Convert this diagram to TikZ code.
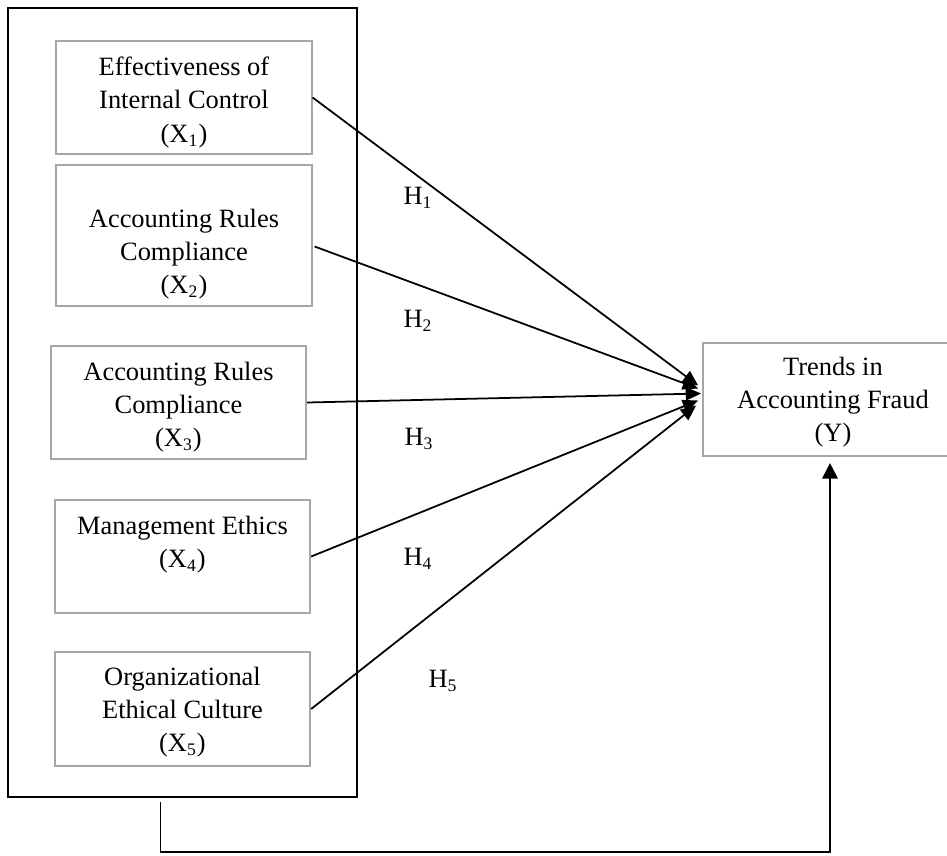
\documentclass[tikz,border=0pt]{standalone}
\usepackage{fontspec}
\setmainfont{Liberation Serif}
\usetikzlibrary{arrows.meta,calc}
\definecolor{boxgray}{RGB}{166,166,166}
\tikzset{every node/.style={font=\fontsize{12}{15}\selectfont, align=center},
  var/.style={draw=boxgray, line width=0.8pt, minimum width=116pt, minimum height=51.5pt, inner sep=2pt},
  vtxt/.style={inner sep=0pt},
  hyp/.style={-{Triangle[length=7pt,width=6pt]}, line width=0.8pt},
  hlab/.style={inner sep=0pt}}

\begin{document}
\begin{tikzpicture}[x=0.454pt,y=-0.454pt]
  \path[use as bounding box] (0,0) rectangle (947,856);
  \clip (0,0) rectangle (947,856);
  % independent variables
  \node[draw, line width=1.1pt, minimum width=158.4pt, minimum height=358.2pt] (grp) at (182.5,402.5) {};
  \node[var] (x1) at (184,97.5) {};
  \node[var, minimum height=64pt] (x2) at (184,235.5) {};
  \node[var] (x3) at (178.5,402.5) {};
  \node[var] (x4) at (182.5,556.5) {};
  \node[var] (x5) at (182.5,709) {};
  \node[vtxt] (t1) at ($(x1)+(0,5)$) {Effectiveness of\\Internal Control\\(X\textsubscript{1})};
  \node[vtxt] (t2) at ($(x2)+(0,19)$) {Accounting Rules\\Compliance\\(X\textsubscript{2})};
  \node[vtxt] (t3) at ($(x3)+(0,5)$) {Accounting Rules\\Compliance\\(X\textsubscript{3})};
  \node[vtxt] (t4) at ($(x4)+(0,-11.5)$) {Management Ethics\\(X\textsubscript{4})};
  \node[vtxt] (t5) at ($(x5)+(0,3.5)$) {Organizational\\Ethical Culture\\(X\textsubscript{5})};
  % dependent variable
  \node[var, minimum width=118pt] (y) at (833,399.5) {};
  \node[vtxt] (ty) at ($(y)+(0,3)$) {Trends in\\Accounting Fraud\\(Y)};
  % hypotheses
  \draw[hyp] (x1.east) -- ($(y.west)+(-4,-14)$);
  \draw[hyp] ($(x2.east)+(2,11)$) -- ($(y.west)+(-4,-11)$);
  \draw[hyp] (x3.east) -- ($(y.west)+(-1,-6)$);
  \draw[hyp] (x4.east) -- ($(y.west)+(-4,1)$);
  \draw[hyp] (x5.east) -- ($(y.west)+(-6,6)$);
  \node[hlab] (h1) at (418,198) {H\textsubscript{1}};
  \node[hlab] (h2) at (418,321) {H\textsubscript{2}};
  \node[hlab] (h3) at (419,439) {H\textsubscript{3}};
  \node[hlab] (h4) at (418,559) {H\textsubscript{4}};
  \node[hlab] (h5) at (443,681) {H\textsubscript{5}};
  % joint effect
  \draw[line width=0.9pt, -{Triangle[length=7pt,width=7pt]}] ($(grp.south)+(-22,4)$) |- ($(y.south)+(-3,395)$) -- ($(y.south)+(-3,6)$);
\end{tikzpicture}
\end{document}
